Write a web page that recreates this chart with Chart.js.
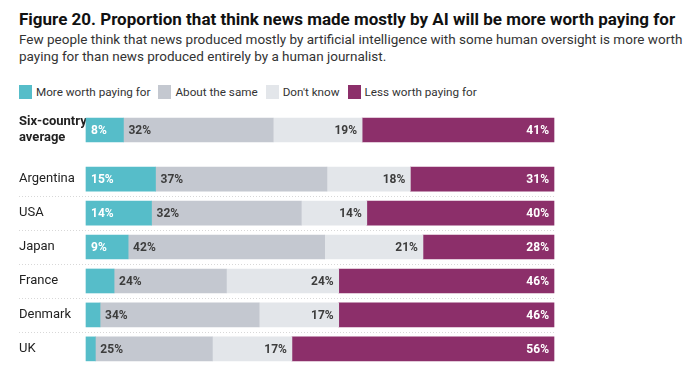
<!DOCTYPE html>
<html>
<head>
<meta charset="utf-8">
<script src="https://cdn.jsdelivr.net/npm/chart.js@4"></script>
<style>
  body { margin: 0; width: 700px; height: 379px; background: #fff; font-family: Roboto, "Noto Sans", sans-serif; overflow: hidden; position: relative; }
  h1 { position: absolute; left: 19px; top: 9px; margin: 0; font-size: 17px; font-weight: 700; color: #111; white-space: nowrap; }
  .sub { position: absolute; left: 19px; top: 31px; margin: 0; font-size: 13.5px; line-height: 17px; color: #333; white-space: nowrap; }
  .legend { position: absolute; left: 19px; top: 85px; font-size: 11.7px; color: #333; display: flex; }
  .legend span { display: flex; align-items: center; margin-right: 8px; }
  .legend i { display: inline-block; width: 13px; height: 14px; margin-right: 4px; }
  canvas { position: absolute; left: 0; }
</style>
</head>
<body>
<h1>Figure 20. Proportion that think news made mostly by AI will be more worth paying for</h1>
<p class="sub">Few people think that news produced mostly by artificial intelligence with some human oversight is more worth<br>paying for than news produced entirely by a human journalist.</p>
<div class="legend" id="legend"></div>
<canvas id="avgChart" width="700" height="60" style="top:100px"></canvas>
<canvas id="countryChart" width="700" height="218" style="top:155px"></canvas>
<script>
const seriesNames = ['More worth paying for', 'About the same', "Don't know", 'Less worth paying for'];
const colors = ['#56bdc9', '#c4c8d0', '#e3e6ea', '#8c2f6a'];

const avgLabel = [['Six-country', 'average']];
const avgMore = [8];
const avgSame = [32];
const avgDontKnow = [19];
const avgLess = [41];

const countries = ['Argentina', 'USA', 'Japan', 'France', 'Denmark', 'UK'];
const more = [15, 14, 9, 6, 3, 2];
const same = [37, 32, 42, 24, 34, 25];
const dontKnow = [18, 14, 21, 24, 17, 17];
const less = [31, 40, 28, 46, 46, 56];

// legend
const legendEl = document.getElementById('legend');
seriesNames.forEach((n, i) => {
    const s = document.createElement('span');
    s.innerHTML = `<i style="background:${colors[i]}"></i>${n}`;
    legendEl.appendChild(s);
});

const barLabels = {
    id: 'barLabels',
    afterDatasetsDraw(chart) {
        const ctx = chart.ctx;
        ctx.save();
        ctx.font = 'bold 12px Roboto, sans-serif';
        ctx.textBaseline = 'middle';
        chart.data.datasets.forEach((ds, di) => {
            const meta = chart.getDatasetMeta(di);
            meta.data.forEach((bar, i) => {
                const v = ds.rawValues[i];
                if (v < 8) return;
                const txt = v + '%';
                const left = Math.min(bar.x, bar.base);
                const right = Math.max(bar.x, bar.base);
                if (di === 0 || di === 1) {
                    ctx.textAlign = 'left';
                    ctx.fillStyle = di === 0 ? '#fff' : '#3d3d3d';
                    ctx.fillText(txt, left + 5, bar.y + 1);
                } else {
                    ctx.textAlign = 'right';
                    ctx.fillStyle = di === 3 ? '#fff' : '#3d3d3d';
                    ctx.fillText(txt, right - 5, bar.y + 1);
                }
            });
        });
        ctx.restore();
    }
};

const separators = {
    id: 'separators',
    beforeDatasetsDraw(chart, args, opts) {
        if (!opts.show) return;
        const ctx = chart.ctx;
        const y = chart.scales.y;
        ctx.save();
        ctx.strokeStyle = '#d8d8d8';
        ctx.setLineDash([1, 2]);
        ctx.lineWidth = 1;
        for (let i = 0; i < y.ticks.length - 1; i++) {
            const py = Math.round((y.getPixelForTick(i) + y.getPixelForTick(i + 1)) / 2) + 0.5;
            ctx.beginPath();
            ctx.moveTo(19, py);
            ctx.lineTo(chart.chartArea.right, py);
            ctx.stroke();
        }
        ctx.restore();
    }
};

function makeChart(id, labels, data, bold, seps) {
    // rows are rounded and may not sum to exactly 100, so scale each to full width
    const totals = labels.map((_, r) => data.reduce((s, d) => s + d[r], 0));
    return new Chart(document.getElementById(id), {
        type: 'bar',
        data: {
            labels: labels,
            datasets: data.map((d, i) => ({
                label: seriesNames[i],
                data: d.map((v, r) => v / totals[r] * 100),
                rawValues: d,
                backgroundColor: colors[i],
                borderWidth: 0,
                barThickness: 24,
                clip: false
            }))
        },
        options: {
            indexAxis: 'y',
            responsive: false,
            animation: false,
            layout: { padding: { left: 19, right: 146, top: 0, bottom: 0 } },
            scales: {
                x: { stacked: true, min: 0, max: 100, display: false },
                y: {
                    stacked: true,
                    grid: { display: false },
                    border: { display: false },
                    afterFit: s => { s.width = 67; },
                    ticks: {
                        crossAlign: 'far',
                        padding: 0,
                        color: '#222',
                        font: { family: 'Roboto', size: 13, weight: bold ? 'bold' : 'normal', lineHeight: bold ? 1.2 : 1.1 }
                    }
                }
            },
            plugins: {
                legend: { display: false },
                tooltip: { enabled: false },
                separators: { show: seps }
            }
        },
        plugins: [barLabels, separators]
    });
}

makeChart('avgChart', avgLabel, [avgMore, avgSame, avgDontKnow, avgLess], true, false);
makeChart('countryChart', countries, [more, same, dontKnow, less], false, true);
</script>
</body>
</html>
